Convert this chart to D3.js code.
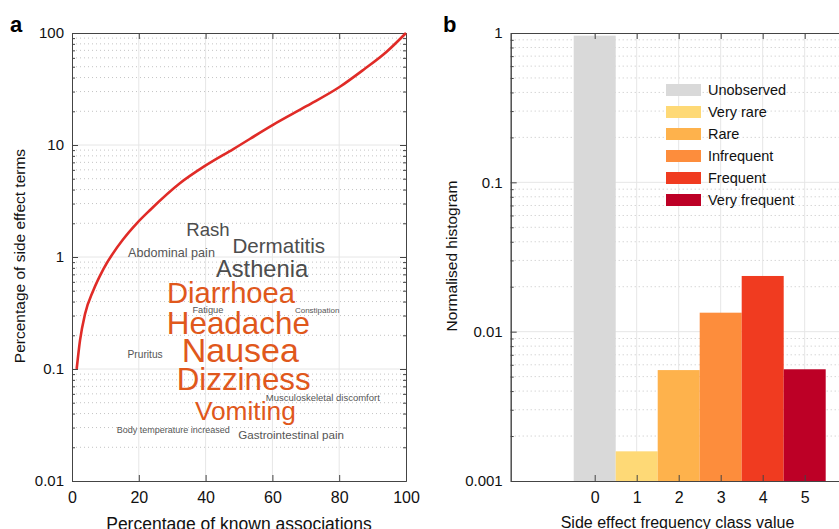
<!DOCTYPE html>
<html lang="en">
<head>
  <meta charset="UTF-8">
  <title>Side effect figure</title>
  <style>
    html, body { margin: 0; width: 100%; height: 100%; overflow: hidden; background: #fff; }
    svg { display: block; font-family: "Liberation Sans", Arial, Helvetica, sans-serif; }
    .minor { stroke: #c4c4c4; stroke-dasharray: 1,3; }
    .major { stroke: #e6e6e6; }
    .axis path, .axis line { stroke: #444; }
    .axis text { font-size: 15px; fill: #111; }
    .axis.xax text { font-size: 16px; }
  </style>
</head>
<body>
  <div id="chart"></div>
  <script src="https://cdn.jsdelivr.net/npm/d3@7"></script>
  <script>
    // panel a: cumulative curve
    const knownPct = [1.4, 2.4, 3.9, 6.4, 9.4, 15.4, 19.4, 23.4, 32.3, 39.8, 48.3, 60.3, 70.3, 80.2, 87.2, 94.2, 100]
    const termPct = [0.1, 0.18, 0.31, 0.505, 0.78, 1.45, 2.0, 2.63, 4.55, 6.5, 9.2, 15.2, 22.3, 33.1, 46.8, 68, 100]

    // panel a: word cloud (position in data units, weight = font size)
    const words = ['Rash', 'Dermatitis', 'Abdominal pain', 'Asthenia', 'Diarrhoea', 'Fatigue', 'Constipation',
      'Headache', 'Pruritus', 'Nausea', 'Dizziness', 'Musculoskeletal discomfort', 'Vomiting',
      'Body temperature increased', 'Gastrointestinal pain']
    const wordX = [40.7, 61.9, 29.8, 56.9, 47.6, 40.7, 73.4, 49.8, 21.9, 50.4, 51.4, 75.1, 51.9, 30.3, 65.6]
    const wordY = [1.54, 1.08, 1.006, 0.659, 0.391, 0.314, 0.318, 0.205, 0.126, 0.116, 0.065, 0.0515, 0.035, 0.027, 0.0236]
    const wordSize = [18.6, 20.6, 12.6, 23.7, 29.2, 9.3, 8, 31.4, 10.2, 34, 31.3, 9.5, 26.3, 9, 11.6]
    const wordHot = [0, 0, 0, 0, 1, 0, 0, 1, 0, 1, 1, 0, 1, 0, 0]

    // panel b: histogram
    const classValues = [0, 1, 2, 3, 4, 5]
    const classNames = ['Unobserved', 'Very rare', 'Rare', 'Infrequent', 'Frequent', 'Very frequent']
    const histValues = [0.96, 0.00158, 0.00553, 0.0134, 0.0236, 0.0056]
    const classColors = ['#d9d9d9', '#fed976', '#feb24c', '#fd8d3c', '#f03b20', '#bd0026']

    const yTicksA = [0.01, 0.1, 1, 10, 100]
    const xTicksA = [0, 20, 40, 60, 80, 100]
    const yTicksB = [0.001, 0.01, 0.1, 1]

    const W = 839, H = 529
    const svg = d3.select('#chart').append('svg').attr('width', W).attr('height', H)

    function minorTicks(lo, hi) {
      const out = []
      for (let d = lo; d < hi; d *= 10) for (let k = 2; k < 10; k++) out.push(d * k)
      return out
    }

    // ---------- panel a ----------
    const xa = d3.scaleLinear().domain([0, 100]).range([72, 406])
    const ya = d3.scaleLog().domain([0.01, 100]).range([481, 33])
    const ga = svg.append('g')

    ga.selectAll('.minor').data(minorTicks(0.01, 100)).join('line')
      .attr('class', 'minor')
      .attr('x1', xa(0)).attr('x2', xa(100))
      .attr('y1', d => ya(d)).attr('y2', d => ya(d))
    ga.selectAll('.majh').data(yTicksA.slice(1, -1)).join('line')
      .attr('class', 'major majh')
      .attr('x1', xa(0)).attr('x2', xa(100))
      .attr('y1', d => ya(d)).attr('y2', d => ya(d))
    ga.selectAll('.majv').data(xTicksA.slice(1, -1)).join('line')
      .attr('class', 'major majv')
      .attr('y1', ya(0.01)).attr('y2', ya(100))
      .attr('x1', d => xa(d)).attr('x2', d => xa(d))

    const fmt = d => d3.format('~g')(d)
    ga.append('g').attr('class', 'axis').attr('transform', `translate(${xa(0)},0)`)
      .call(d3.axisLeft(ya).tickValues(yTicksA).tickFormat(fmt).tickSize(-6).tickSizeOuter(0).tickPadding(8))
    ga.append('g').attr('class', 'axis').attr('transform', `translate(${xa(0)},0)`)
      .call(d3.axisLeft(ya).tickValues(minorTicks(0.01, 100)).tickFormat('').tickSize(-3).tickSizeOuter(0))
    ga.append('g').attr('class', 'axis').attr('transform', `translate(${xa(100)},0)`)
      .call(d3.axisRight(ya).tickValues(yTicksA).tickFormat('').tickSize(-6).tickSizeOuter(0))
    ga.append('g').attr('class', 'axis').attr('transform', `translate(${xa(100)},0)`)
      .call(d3.axisRight(ya).tickValues(minorTicks(0.01, 100)).tickFormat('').tickSize(-3).tickSizeOuter(0))
    ga.append('g').attr('class', 'axis xax').attr('transform', `translate(0,${ya(0.01)})`)
      .call(d3.axisBottom(xa).tickValues(xTicksA).tickSize(-6).tickSizeOuter(0).tickPadding(11))
    ga.append('g').attr('class', 'axis').attr('transform', `translate(0,${ya(100)})`)
      .call(d3.axisTop(xa).tickValues(xTicksA).tickFormat('').tickSize(-6).tickSizeOuter(0))

    const line = d3.line().x(d => xa(d[0])).y(d => ya(d[1])).curve(d3.curveMonotoneX)
    ga.append('path')
      .datum(d3.zip(knownPct, termPct))
      .attr('d', line)
      .attr('fill', 'none')
      .attr('stroke', '#e02b27')
      .attr('stroke-width', 2.6)

    ga.selectAll('.word').data(words).join('text')
      .attr('class', 'word')
      .attr('x', (d, i) => xa(wordX[i]))
      .attr('y', (d, i) => ya(wordY[i]))
      .attr('text-anchor', 'middle')
      .attr('font-size', (d, i) => wordSize[i])
      .attr('fill', (d, i) => wordHot[i] ? '#e0581c' : (wordSize[i] > 15 ? '#4d4d4d' : '#555'))
      .text(d => d)

    ga.append('text').attr('x', 10).attr('y', 32).attr('font-size', 22).attr('font-weight', 'bold').text('a')
    ga.append('text')
      .attr('transform', `translate(25,256) rotate(-90)`)
      .attr('text-anchor', 'middle').attr('font-size', 15.5).attr('fill', '#111')
      .text('Percentage of side effect terms')
    ga.append('text')
      .attr('x', (xa(0) + xa(100)) / 2).attr('y', 529.5)
      .attr('text-anchor', 'middle').attr('font-size', 17.5).attr('fill', '#111')
      .text('Percentage of known associations')

    // ---------- panel b ----------
    const xb = d3.scaleLinear().domain([-2, 6]).range([510.7, 846.7])
    const yb = d3.scaleLog().domain([0.001, 1]).range([481, 33])
    const gb = svg.append('g')

    gb.selectAll('.minor').data(minorTicks(0.001, 1)).join('line')
      .attr('class', 'minor')
      .attr('x1', xb(-2)).attr('x2', W)
      .attr('y1', d => yb(d)).attr('y2', d => yb(d))
    gb.selectAll('.majh').data(yTicksB.slice(1, -1)).join('line')
      .attr('class', 'major majh')
      .attr('x1', xb(-2)).attr('x2', W)
      .attr('y1', d => yb(d)).attr('y2', d => yb(d))
    gb.selectAll('.majv').data(classValues).join('line')
      .attr('class', 'major majv')
      .attr('y1', yb(0.001)).attr('y2', yb(1))
      .attr('x1', d => xb(d)).attr('x2', d => xb(d))

    gb.selectAll('.bar').data(classValues).join('rect')
      .attr('class', 'bar')
      .attr('x', d => xb(d - 0.5))
      .attr('width', xb(1) - xb(0))
      .attr('y', (d, i) => yb(histValues[i]))
      .attr('height', (d, i) => yb(0.001) - yb(histValues[i]))
      .attr('fill', (d, i) => classColors[i])

    gb.append('g').attr('class', 'axis').attr('transform', `translate(${xb(-2)},0)`)
      .call(d3.axisLeft(yb).tickValues(yTicksB).tickFormat(fmt).tickSize(-6).tickSizeOuter(0).tickPadding(8))
    gb.append('g').attr('class', 'axis').attr('transform', `translate(${xb(-2)},0)`)
      .call(d3.axisLeft(yb).tickValues(minorTicks(0.001, 1)).tickFormat('').tickSize(-3).tickSizeOuter(0))
    gb.append('g').attr('class', 'axis xax').attr('transform', `translate(0,${yb(0.001)})`)
      .call(d3.axisBottom(xb).tickValues(classValues).tickSize(-6).tickSizeOuter(0).tickPadding(11))
    gb.append('g').attr('class', 'axis').attr('transform', `translate(0,${yb(1)})`)
      .call(d3.axisTop(xb).tickValues(classValues).tickFormat('').tickSize(-6).tickSizeOuter(0))

    const legend = gb.append('g').attr('transform', 'translate(666,84)')
    const rows = legend.selectAll('g').data(classNames).join('g')
      .attr('transform', (d, i) => `translate(0,${i * 22})`)
    rows.append('rect').attr('width', 35).attr('height', 12).attr('fill', (d, i) => classColors[i])
    rows.append('text').attr('x', 42).attr('y', 11).attr('font-size', 14.5).attr('fill', '#111').text(d => d)

    gb.append('text').attr('x', 443).attr('y', 32).attr('font-size', 22).attr('font-weight', 'bold').text('b')
    gb.append('text')
      .attr('transform', `translate(457,256) rotate(-90)`)
      .attr('text-anchor', 'middle').attr('font-size', 15.5).attr('fill', '#111')
      .text('Normalised histogram')
    gb.append('text')
      .attr('x', 677.5).attr('y', 528)
      .attr('text-anchor', 'middle').attr('font-size', 16).attr('fill', '#111')
      .text('Side effect frequency class value')
  </script>
</body>
</html>
